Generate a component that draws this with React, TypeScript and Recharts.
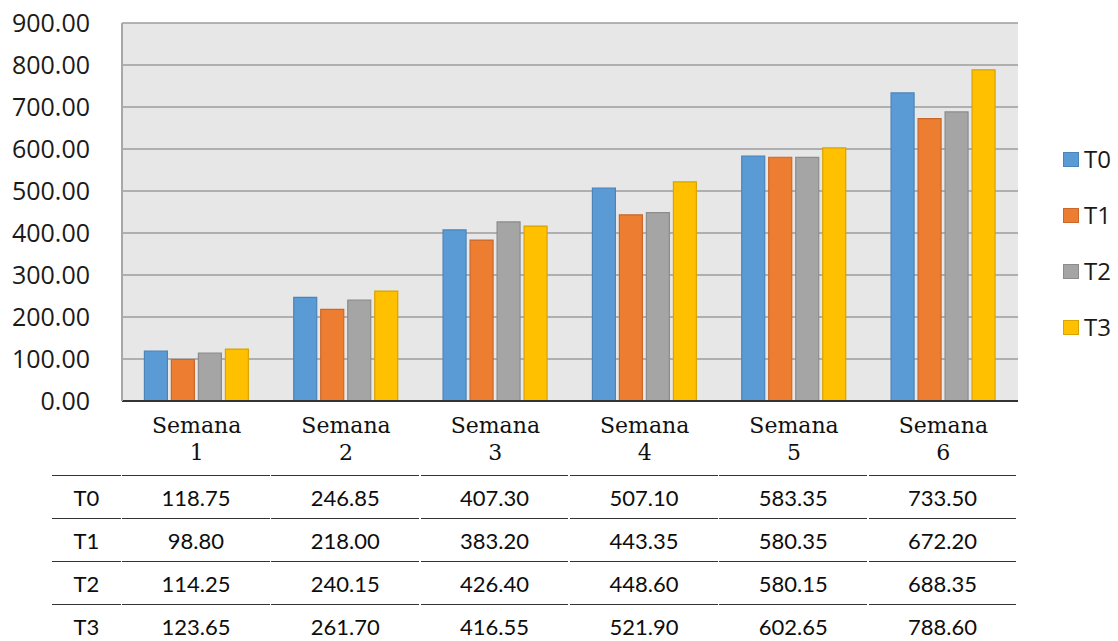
import React from 'react';
import { BarChart, Bar, XAxis, YAxis, CartesianGrid } from 'recharts';

// Weekly values per treatment
const categories = ['Semana 1', 'Semana 2', 'Semana 3', 'Semana 4', 'Semana 5', 'Semana 6'];
const t0 = [118.75, 246.85, 407.3, 507.1, 583.35, 733.5];
const t1 = [98.8, 218.0, 383.2, 443.35, 580.35, 672.2];
const t2 = [114.25, 240.15, 426.4, 448.6, 580.15, 688.35];
const t3 = [123.65, 261.7, 416.55, 521.9, 602.65, 788.6];
const seriesNames = ['T0', 'T1', 'T2', 'T3'];
const yTicks = [0, 100, 200, 300, 400, 500, 600, 700, 800, 900];

const seriesValues = [t0, t1, t2, t3];
const fills = ['#5b9bd5', '#ed7d31', '#a5a5a5', '#ffc000'];
const strokes = ['#4a84ba', '#c9682a', '#8c8c8c', '#d9a300'];

const data = categories.map((name, i) => {
  const row: Record<string, string | number> = { name };
  seriesNames.forEach((s, k) => {
    row[s] = seriesValues[k][i];
  });
  return row;
});

// layout constants
const W = 1118;
const H = 641;
const PLOT_LEFT = 122;
const PLOT_RIGHT = 1018;
const BAND = (PLOT_RIGHT - PLOT_LEFT) / categories.length;
const TABLE_LEFT = 52;
const TABLE_TOP = 475;
const ROW_H = 43;

const CategoryTick = (props: any) => {
  const { x, y, payload } = props;
  const parts = String(payload.value).split(' ');
  return (
    <text
      x={x}
      y={y}
      textAnchor="middle"
      fill="#111"
      fontFamily="'DejaVu Serif', serif"
      fontSize={22}
    >
      <tspan x={x} dy={32}>{parts[0]}</tspan>
      <tspan x={x} dy={27}>{parts[1]}</tspan>
    </text>
  );
};

const fmt = (v: number) => v.toFixed(2);

export default function App() {
  return (
    <div style={{ position: 'absolute', left: 0, top: 0, width: W, height: H, background: '#fff', overflow: 'hidden' }}>
      <BarChart
        width={W}
        height={H}
        data={data}
        margin={{ top: 23, right: W - PLOT_RIGHT, bottom: 180, left: 22 }}
        barCategoryGap="15%"
        barGap={4}
      >
        <CartesianGrid vertical={false} stroke="#9c9c9c" strokeWidth={1.5} fill="#e7e7e7" />
        <XAxis
          dataKey="name"
          height={60}
          tickLine={false}
          tickSize={0}
          tickMargin={0}
          axisLine={{ stroke: '#333', strokeWidth: 2 }}
          tick={<CategoryTick />}
          interval={0}
        />
        <YAxis
          width={100}
          domain={[0, 900]}
          ticks={yTicks}
          tickFormatter={fmt}
          tickLine={false}
          tickSize={0}
          tickMargin={32}
          axisLine={{ stroke: '#a8a8a8', strokeWidth: 2 }}
          tick={{ fill: '#1a1a1a', fontSize: 25, fontFamily: "'Open Sans', sans-serif" }}
        />
        {seriesNames.map((s, k) => (
          <Bar
            key={s}
            dataKey={s}
            fill={fills[k]}
            stroke={strokes[k]}
            strokeWidth={1.2}
            isAnimationActive={false}
          />
        ))}
      </BarChart>

      {/* legend */}
      {seriesNames.map((s, k) => (
        <div
          key={s}
          style={{ position: 'absolute', left: 1063, top: 150 + k * 56, height: 18, display: 'flex', alignItems: 'center' }}
        >
          <div
            style={{
              width: 16,
              height: 15,
              background: fills[k],
              border: `1px solid ${strokes[k]}`,
              boxSizing: 'border-box',
            }}
          />
          <span
            style={{
              marginLeft: 5,
              fontFamily: "'Open Sans', sans-serif",
              fontSize: 24,
              color: '#1a1a1a',
              lineHeight: '18px',
            }}
          >
            {s}
          </span>
        </div>
      ))}

      {/* data table under the axis */}
      {seriesNames.map((s, k) => {
        const top = TABLE_TOP + k * ROW_H;
        const cellStyle = (left: number, width: number): React.CSSProperties => ({
          position: 'absolute',
          left,
          top,
          width,
          height: ROW_H,
          display: 'flex',
          alignItems: 'center',
          justifyContent: 'center',
          fontFamily: 'Lato, sans-serif',
          fontSize: 22,
          color: '#0d0d0d',
          borderTop: '1.5px solid #333',
          boxSizing: 'border-box',
        });
        return (
          <React.Fragment key={s}>
            <div style={cellStyle(TABLE_LEFT, PLOT_LEFT - TABLE_LEFT - 1)}>{s}</div>
            {seriesValues[k].map((v, i) => (
              <div key={i} style={cellStyle(PLOT_LEFT + i * BAND, BAND - 1.5)}>
                {fmt(v)}
              </div>
            ))}
          </React.Fragment>
        );
      })}
    </div>
  );
}
